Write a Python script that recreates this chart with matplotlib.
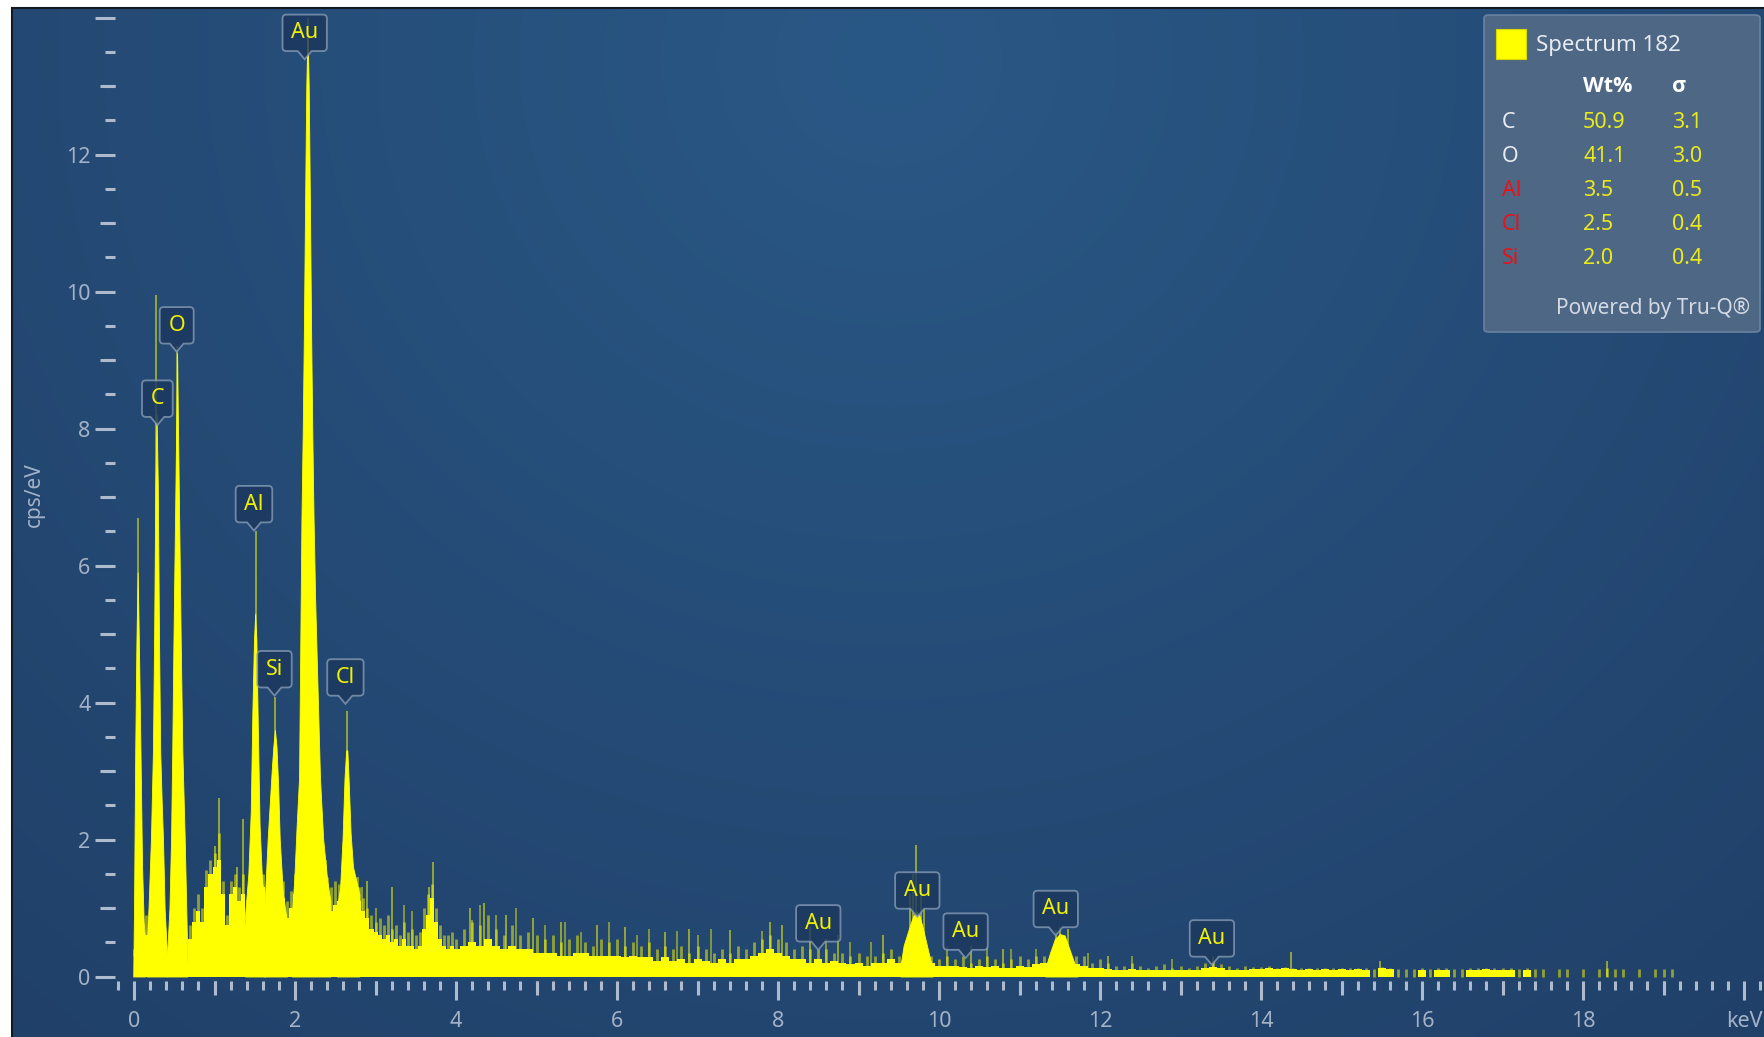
import numpy as np
import matplotlib
matplotlib.use("Agg")
import matplotlib.pyplot as plt
from matplotlib.path import Path
from matplotlib.patches import FancyBboxPatch, Rectangle
from matplotlib.ticker import FixedLocator

plt.rcParams['font.family'] = ['Noto Sans', 'DejaVu Sans']

# ------------------------------------------------------------------ data
# continuum channels 0-4 keV (0.05 keV bins)
fine_keV = np.round(np.arange(0.0, 4.0001, 0.05), 2)
fine_body = [0.30, 0.30, 0.30, 0.60, 0.80, 0.80, 0.80, 0.65, 0.28, 0.30,
             0.30, 0.30, 0.50, 0.20, 0.55, 0.80, 0.95, 0.80, 1.30, 1.50,
             1.60, 1.70, 1.20, 0.75, 1.20, 1.30, 1.10, 1.20, 0.75, 1.40,
             1.60, 1.50, 1.30, 1.10, 1.25, 1.35, 1.25, 1.15, 0.85, 1.00,
             1.20, 1.30, 1.30, 1.30, 1.30, 1.30, 1.20, 1.15, 1.05, 0.95,
             1.05, 1.10, 1.25, 1.25, 1.25, 1.20, 1.10, 0.95, 0.85, 0.70,
             0.65, 0.60, 0.55, 0.60, 0.50, 0.55, 0.45, 0.55, 0.45, 0.45,
             0.40, 0.45, 0.70, 0.90, 1.15, 0.80, 0.55, 0.45, 0.40, 0.45,
             0.40]
fine_edge = [0.40, 0.40, 0.40, 0.90, 1.00, 1.00, 1.00, 0.90, 0.35, 0.50,
             0.50, 0.50, 0.80, 0.30, 0.75, 1.00, 1.20, 1.00, 1.55, 1.70,
             1.80, 2.10, 1.40, 0.90, 1.40, 1.50, 1.30, 1.50, 1.00, 1.80,
             1.90, 1.80, 1.50, 1.30, 1.50, 1.60, 1.50, 1.40, 1.10, 1.25,
             1.50, 1.50, 1.50, 1.50, 1.50, 1.50, 1.50, 1.60, 1.45, 1.30,
             1.40, 1.35, 1.50, 1.50, 1.50, 1.45, 1.30, 1.15, 1.00, 0.90,
             0.80, 0.85, 0.75, 0.90, 0.70, 0.75, 0.60, 0.80, 0.65, 0.70,
             0.60, 0.65, 1.00, 1.20, 1.35, 1.00, 0.75, 0.60, 0.60, 0.65,
             0.55]

# continuum channels 4.1-19.5 keV (0.1 keV bins)
coarse_keV = np.round(np.arange(4.1, 19.5001, 0.1), 2)
coarse_body = [0.45, 0.50, 0.45, 0.55, 0.45, 0.40, 0.45, 0.40, 0.40, 0.35,
               0.35, 0.35, 0.30, 0.30, 0.35, 0.35, 0.30, 0.30, 0.30, 0.30,
               0.28, 0.30, 0.28, 0.28, 0.22, 0.28, 0.22, 0.25, 0.20, 0.25,
               0.22, 0.20, 0.25, 0.20, 0.25, 0.25, 0.30, 0.35, 0.40, 0.35,
               0.30, 0.25, 0.25, 0.20, 0.25, 0.20, 0.22, 0.20, 0.18, 0.20,
               0.15, 0.20, 0.20, 0.25, 0.20, 0.20, 0.20, 0.20, 0.20, 0.15,
               0.15, 0.15, 0.14, 0.12, 0.15, 0.14, 0.15, 0.12, 0.13, 0.15,
               0.14, 0.18, 0.20, 0.20, 0.20, 0.20, 0.18, 0.15, 0.13, 0.12,
               0.11, 0.10, 0.10, 0.11, 0.10, 0.09, 0.10, 0.10, 0.09, 0.10,
               0.09, 0.10, 0.12, 0.14, 0.12, 0.10, 0.09, 0.10, 0.11, 0.11,
               0.12, 0.11, 0.12, 0.11, 0.10, 0.11, 0.10, 0.11, 0.10, 0.11,
               0.10, 0.11, 0.10, 0.00, 0.12, 0.11, 0.00, 0.00, 0.00, 0.10,
               0.00, 0.10, 0.10, 0.00, 0.00, 0.10, 0.10, 0.11, 0.10, 0.10,
               0.10, 0.00, 0.10, 0.00, 0.00, 0.00, 0.00, 0.00, 0.00, 0.00,
               0.00, 0.00, 0.00, 0.00, 0.00, 0.00, 0.00, 0.00, 0.00, 0.00,
               0.00, 0.00, 0.00, 0.00, 0.00]
coarse_edge = [0.70, 0.80, 0.75, 0.90, 0.70, 0.60, 0.75, 0.60, 0.65, 0.60,
               0.55, 0.60, 0.50, 0.55, 0.60, 0.50, 0.45, 0.55, 0.50, 0.55,
               0.45, 0.50, 0.45, 0.50, 0.40, 0.45, 0.40, 0.45, 0.35, 0.45,
               0.40, 0.35, 0.40, 0.35, 0.45, 0.40, 0.50, 0.55, 0.60, 0.55,
               0.50, 0.40, 0.45, 0.40, 0.40, 0.40, 0.35, 0.35, 0.30, 0.35,
               0.30, 0.30, 0.35, 0.40, 0.30, 0.30, 0.30, 0.30, 0.30, 0.25,
               0.30, 0.25, 0.30, 0.20, 0.25, 0.30, 0.25, 0.20, 0.25, 0.30,
               0.25, 0.30, 0.30, 0.30, 0.30, 0.30, 0.30, 0.30, 0.20, 0.25,
               0.20, 0.15, 0.15, 0.20, 0.15, 0.12, 0.15, 0.18, 0.12, 0.15,
               0.12, 0.15, 0.20, 0.22, 0.18, 0.15, 0.12, 0.15, 0.14, 0.14,
               0.15, 0.13, 0.14, 0.13, 0.12, 0.13, 0.12, 0.13, 0.12, 0.13,
               0.12, 0.13, 0.12, 0.11, 0.14, 0.13, 0.11, 0.11, 0.11, 0.12,
               0.11, 0.12, 0.12, 0.11, 0.11, 0.12, 0.12, 0.13, 0.12, 0.12,
               0.12, 0.11, 0.12, 0.11, 0.11, 0.00, 0.11, 0.11, 0.00, 0.11,
               0.00, 0.11, 0.13, 0.11, 0.11, 0.00, 0.11, 0.00, 0.11, 0.11,
               0.11, 0.00, 0.00, 0.00, 0.00]

# characteristic peak profiles (keV, cps/eV)
peak_noise_keV = [-0.01, 0.0, 0.015, 0.03, 0.045, 0.06, 0.08, 0.10, 0.12, 0.14]
peak_noise_cps = [0.0, 1.0, 3.3, 4.9, 5.9, 4.9, 3.3, 1.6, 0.8, 0.5]
peak_C_keV = [0.16, 0.18, 0.21, 0.235, 0.25, 0.265, 0.28, 0.295, 0.31, 0.325, 0.345, 0.36, 0.38, 0.41]
peak_C_cps = [0.5, 1.0, 2.0, 3.3, 5.0, 7.2, 8.2, 7.2, 5.0, 3.3, 2.5, 2.0, 1.0, 0.3]
peak_O_keV = [0.41, 0.44, 0.46, 0.475, 0.49, 0.515, 0.535, 0.555, 0.58, 0.60, 0.63, 0.66]
peak_O_cps = [0.3, 1.0, 2.0, 3.3, 4.9, 7.2, 9.1, 7.2, 4.9, 3.3, 2.0, 0.4]
peak_Al_keV = [1.38, 1.42, 1.45, 1.47, 1.49, 1.505, 1.52, 1.54, 1.56, 1.59, 1.63]
peak_Al_cps = [0.9, 1.5, 2.4, 3.85, 4.9, 5.3, 4.9, 3.5, 2.2, 1.4, 1.05]
peak_Si_keV = [1.62, 1.66, 1.69, 1.71, 1.73, 1.75, 1.77, 1.79, 1.81, 1.85, 1.90]
peak_Si_cps = [1.0, 2.0, 2.6, 3.0, 3.35, 3.6, 3.35, 2.8, 2.0, 1.2, 0.8]
peak_AuM_keV = [1.96, 1.99, 2.02, 2.05, 2.065, 2.08, 2.095, 2.11, 2.125, 2.14, 2.155,
                2.17, 2.185, 2.20, 2.215, 2.23, 2.25, 2.28, 2.31, 2.35, 2.40, 2.44]
peak_AuM_cps = [0.9, 1.4, 2.2, 2.9, 4.8, 6.7, 7.9, 9.4, 11.3, 13.0, 13.8,
                13.0, 11.3, 9.4, 7.9, 6.7, 5.5, 4.2, 2.9, 2.0, 1.4, 1.1]
peak_Cl_keV = [2.52, 2.56, 2.59, 2.615, 2.635, 2.65, 2.665, 2.69, 2.72, 2.76, 2.80]
peak_Cl_cps = [1.0, 1.3, 2.0, 2.9, 3.3, 3.3, 2.9, 2.1, 1.6, 1.4, 1.2]
peak_AuLa_keV = [9.52, 9.56, 9.60, 9.64, 9.68, 9.72, 9.76, 9.80, 9.84, 9.88, 9.92]
peak_AuLa_cps = [0.15, 0.45, 0.60, 0.75, 0.88, 0.95, 0.88, 0.70, 0.50, 0.30, 0.12]
peak_AuLb_keV = [11.32, 11.38, 11.44, 11.50, 11.56, 11.62, 11.68, 11.72]
peak_AuLb_cps = [0.12, 0.35, 0.55, 0.62, 0.60, 0.40, 0.20, 0.10]

# single-channel spikes (keV, cps/eV)
spike_keV = [0.045, 0.275, 0.54, 1.06, 1.01, 1.35, 1.28, 1.515, 1.75, 2.155, 2.38, 2.33,
             2.645, 2.90, 3.20, 3.71, 3.66, 4.35, 4.17, 4.62, 4.95, 5.30, 5.75, 6.10,
             6.60, 6.90, 7.40, 7.90, 8.05, 8.40, 8.75, 9.30, 9.72, 9.68, 9.64, 9.77,
             9.81, 10.40, 10.80, 11.45, 11.50, 11.60, 12.10, 13.40, 14.37, 15.48, 18.30]
spike_cps = [6.7, 9.95, 9.2, 2.6, 1.9, 2.3, 1.6, 6.5, 4.08, 14.0, 1.7, 1.6,
             3.87, 1.4, 1.3, 1.67, 1.3, 1.07, 1.0, 0.9, 0.85, 0.8, 0.75, 0.72,
             0.65, 0.7, 0.68, 0.8, 0.75, 0.72, 0.6, 0.6, 1.92, 1.5, 1.2, 1.3,
             1.0, 0.45, 0.4, 0.68, 0.72, 0.7, 0.3, 0.3, 0.36, 0.23, 0.23]
extra_spike_keV = [2.78, 2.83, 3.00, 3.35, 3.45, 4.20, 4.30, 4.50, 4.75, 5.10, 5.35,
                   5.55, 5.90, 6.25, 6.40, 6.75, 7.00, 7.17, 7.80, 8.60, 8.90, 9.15,
                   10.10, 10.60, 10.90, 11.20, 11.85, 12.40, 12.90]
extra_spike_cps = [1.45, 1.30, 1.00, 1.05, 0.95, 0.83, 1.05, 0.90, 1.00, 0.75, 0.80,
                   0.65, 0.80, 0.60, 0.70, 0.67, 0.60, 0.70, 0.67, 0.55, 0.50, 0.50,
                   0.45, 0.45, 0.40, 0.40, 0.35, 0.30, 0.25]

# peak labels
label_names = ['C', 'O', 'Al', 'Si', 'Au', 'Cl', 'Au', 'Au', 'Au', 'Au', 'Au']
label_keV = [0.29, 0.53, 1.49, 1.745, 2.12, 2.626, 8.50, 9.73, 10.33, 11.45, 13.39]
label_tip = [8.05, 9.12, 6.51, 4.10, 13.39, 3.98, 0.39, 0.87, 0.27, 0.60, 0.17]

# axis ticks
x_major = list(range(0, 21, 2))
x_major_labels = ['0', '2', '4', '6', '8', '10', '12', '14', '16', '18', 'keV']
x_medium = list(range(1, 20, 2))
y_major = list(range(0, 15, 2))
y_major_labels = ['0', '2', '4', '6', '8', '10', '12', '']
y_medium = list(range(1, 14, 2))

# legend table
legend_title = 'Spectrum 182'
legend_elements = ['C', 'O', 'Al', 'Cl', 'Si']
legend_wt = ['50.9', '41.1', '3.5', '2.5', '2.0']
legend_sigma = ['3.1', '3.0', '0.5', '0.4', '0.4']
legend_elem_colors = ['#e8ecf2', '#e8ecf2', '#e4141b', '#e4141b', '#e4141b']

# ------------------------------------------------------------------ style
YELLOW = '#ffff00'
TICK_C = '#aebbcd'
LAB_C = '#a3b2c6'
FS = 15.5

W, H = 1764, 1037
fig = plt.figure(figsize=(W / 100, H / 100), dpi=100, facecolor='white')
left_px, top_px = 11.5, 7.5
rect = [left_px / W, 0.0, 1 - left_px / W, 1 - top_px / H]

# background with soft radial gradient
ax_bg = fig.add_axes(rect, zorder=0)
ny, nx = 300, 500
yy, xx = np.mgrid[0:1:ny * 1j, 0:1:nx * 1j]
d = np.sqrt(((xx - 0.5) * 1.6) ** 2 + (yy - 0.95) ** 2)
t = np.clip(d / 1.35, 0, 1)
inner = np.array([42, 88, 134]) / 255
outer = np.array([31, 62, 102]) / 255
img = inner[None, None, :] * (1 - t[..., None]) + outer[None, None, :] * t[..., None]
ax_bg.imshow(img, extent=[0, 1, 0, 1], origin='lower', aspect='auto', interpolation='bilinear')
ax_bg.set_xlim(0, 1)
ax_bg.set_ylim(0, 1)
ax_bg.set_xticks([])
ax_bg.set_yticks([])
for s in ['right', 'bottom']:
    ax_bg.spines[s].set_visible(False)
for s in ['left', 'top']:
    ax_bg.spines[s].set_color('#131a24')
    ax_bg.spines[s].set_linewidth(1.5)

# main data axes
ax = fig.add_axes(rect, zorder=1)
ax.patch.set_alpha(0)
xlim = (-1.522, 20.248)
ylim = (-0.883, 14.146)
ax.set_xlim(*xlim)
ax.set_ylim(*ylim)

energy = np.concatenate([fine_keV, coarse_keV])
body = np.concatenate([fine_body, coarse_body])
edge = np.concatenate([fine_edge, coarse_edge])

ax.fill_between(energy, 0, body, step='mid', color=YELLOW, lw=0, zorder=3)
ax.vlines(energy, body, edge, colors=YELLOW, linewidth=2.0, alpha=0.5, zorder=2)

peaks = [(peak_noise_keV, peak_noise_cps), (peak_C_keV, peak_C_cps),
         (peak_O_keV, peak_O_cps), (peak_Al_keV, peak_Al_cps),
         (peak_Si_keV, peak_Si_cps), (peak_AuM_keV, peak_AuM_cps),
         (peak_Cl_keV, peak_Cl_cps), (peak_AuLa_keV, peak_AuLa_cps),
         (peak_AuLb_keV, peak_AuLb_cps)]
for pk, pc in peaks:
    ax.fill_between(pk, 0, pc, color=YELLOW, lw=0.6, edgecolor=YELLOW, zorder=4)

ax.vlines(spike_keV, 0, spike_cps, colors=YELLOW, linewidth=1.1, alpha=0.65, zorder=5)
ax.vlines(extra_spike_keV, 0, extra_spike_cps, colors=YELLOW, linewidth=1.1, alpha=0.55, zorder=2)

# spines / ticks
for s in ax.spines.values():
    s.set_color('none')
y_spine = -0.07
x_spine = -0.24
ax.spines['bottom'].set_position(('data', y_spine))
ax.spines['left'].set_position(('data', x_spine))

ax.set_xticks(x_major)
ax.set_xticklabels(x_major_labels)
ax.xaxis.set_minor_locator(FixedLocator(np.round(np.arange(-1, 102) * 0.2, 1)))
ax.set_yticks(y_major)
ax.set_yticklabels(y_major_labels)
ax.yaxis.set_minor_locator(FixedLocator(np.arange(0, 29) * 0.5))

ax.tick_params(axis='x', which='major', direction='out', length=13.7, width=2.2,
               color=TICK_C, labelcolor=LAB_C, labelsize=FS, pad=8)
ax.tick_params(axis='x', which='minor', direction='out', length=6.5, width=2.2, color=TICK_C)
ax.tick_params(axis='y', which='major', direction='out', length=14.4, width=2.2,
               color=TICK_C, labelcolor=LAB_C, labelsize=FS, pad=3)
ax.tick_params(axis='y', which='minor', direction='out', length=7.2, width=2.2, color=TICK_C)

fy = (y_spine - ylim[0]) / (ylim[1] - ylim[0])
fx = (x_spine - xlim[0]) / (xlim[1] - xlim[0])
secx = ax.secondary_xaxis(fy)
secx.set_xticks(x_medium)
secx.tick_params(axis='x', direction='out', length=10.1, width=2.2, color=TICK_C,
                 labelbottom=False, labeltop=False)
secy = ax.secondary_yaxis(fx)
secy.set_yticks(y_medium)
secy.tick_params(axis='y', direction='out', length=10.8, width=2.2, color=TICK_C,
                 labelleft=False, labelright=False)
for sa in (secx, secy):
    for s in sa.spines.values():
        s.set_visible(False)

ax.text((34 - left_px) / (W - left_px), (H - 495) / (H - top_px), 'cps/eV',
        transform=ax.transAxes, rotation=90, ha='center', va='center',
        color=LAB_C, fontsize=FS - 0.5)


# callout label boxes
def callout_box(x0, y0, width, height, mutation_size):
    padx = 0.40 * mutation_size
    pady = 0.36 * mutation_size
    r = 0.18 * mutation_size
    th = 0.38 * mutation_size
    tw = 0.32 * mutation_size
    x0 = x0 - padx
    y0 = y0 - pady
    x1 = x0 + width + 2 * padx
    y1 = y0 + height + 2 * pady
    xc = 0.5 * (x0 + x1)
    verts = [(x0 + r, y0), (xc - tw, y0), (xc, y0 - th), (xc + tw, y0), (x1 - r, y0),
             (x1, y0), (x1, y0 + r), (x1, y1 - r), (x1, y1), (x1 - r, y1),
             (x0 + r, y1), (x0, y1), (x0, y1 - r), (x0, y0 + r), (x0, y0), (x0 + r, y0),
             (x0 + r, y0)]
    codes = [Path.MOVETO, Path.LINETO, Path.LINETO, Path.LINETO, Path.LINETO,
             Path.CURVE3, Path.CURVE3, Path.LINETO, Path.CURVE3, Path.CURVE3,
             Path.LINETO, Path.CURVE3, Path.CURVE3, Path.LINETO, Path.CURVE3, Path.CURVE3,
             Path.CLOSEPOLY]
    return Path(verts, codes)


LBL_FS = 15.5
for name, e, tip in zip(label_names, label_keV, label_tip):
    ax.annotate(name, xy=(e, tip), xytext=(0, (0.36 + 0.38) * LBL_FS),
                textcoords='offset points', ha='center', va='bottom',
                fontsize=LBL_FS, color='#f2f200', zorder=8, annotation_clip=False,
                bbox=dict(boxstyle=callout_box, facecolor=(0.11, 0.22, 0.37, 0.82),
                          edgecolor=(0.55, 0.63, 0.73, 0.75), linewidth=1.3))


# legend panel (figure pixel layout)
def fxy(px, py):
    return px / W, 1 - py / H


lx0, ly0 = fxy(1484, 332)
lx1, ly1 = fxy(1760, 15)
fig.patches.append(FancyBboxPatch((lx0, ly0), lx1 - lx0, ly1 - ly0,
                                  boxstyle='round,pad=0,rounding_size=0.003',
                                  transform=fig.transFigure, facecolor=(0.32, 0.42, 0.53, 0.9),
                                  edgecolor='#6a829f', linewidth=1.2, zorder=10))
sx0, sy0 = fxy(1496, 59)
sx1, sy1 = fxy(1526, 29)
fig.patches.append(Rectangle((sx0, sy0), sx1 - sx0, sy1 - sy0, transform=fig.transFigure,
                             facecolor=YELLOW, edgecolor='#d8d800', lw=0.8, zorder=11))
fig.text(*fxy(1536, 46), legend_title, ha='left', va='center', fontsize=FS + 0.5,
         color='#e6ebf1', zorder=12)
BOLD_FAM = ['Open Sans', 'Noto Sans', 'DejaVu Sans']
fig.text(*fxy(1583, 87), 'Wt%', ha='left', va='center', fontsize=FS, family=BOLD_FAM,
         color='white', fontweight='bold', zorder=12)
fig.text(*fxy(1672, 87), 'σ', ha='left', va='center', fontsize=FS, family=BOLD_FAM,
         color='white', fontweight='bold', zorder=12)
row_y = [122, 156, 190, 224, 258]
for yv, el, wt, sg, ec in zip(row_y, legend_elements, legend_wt, legend_sigma, legend_elem_colors):
    fig.text(*fxy(1502, yv), el, ha='left', va='center', fontsize=FS, color=ec, zorder=12)
    fig.text(*fxy(1583, yv), wt, ha='left', va='center', fontsize=FS, color='#eaea1c', zorder=12)
    fig.text(*fxy(1672, yv), sg, ha='left', va='center', fontsize=FS, color='#eaea1c', zorder=12)
fig.text(*fxy(1750, 308), 'Powered by Tru-Q®', ha='right', va='center', fontsize=FS - 0.5,
         color='#d3dae3', zorder=12)

fig.savefig('out.png', dpi=100, facecolor='white')
